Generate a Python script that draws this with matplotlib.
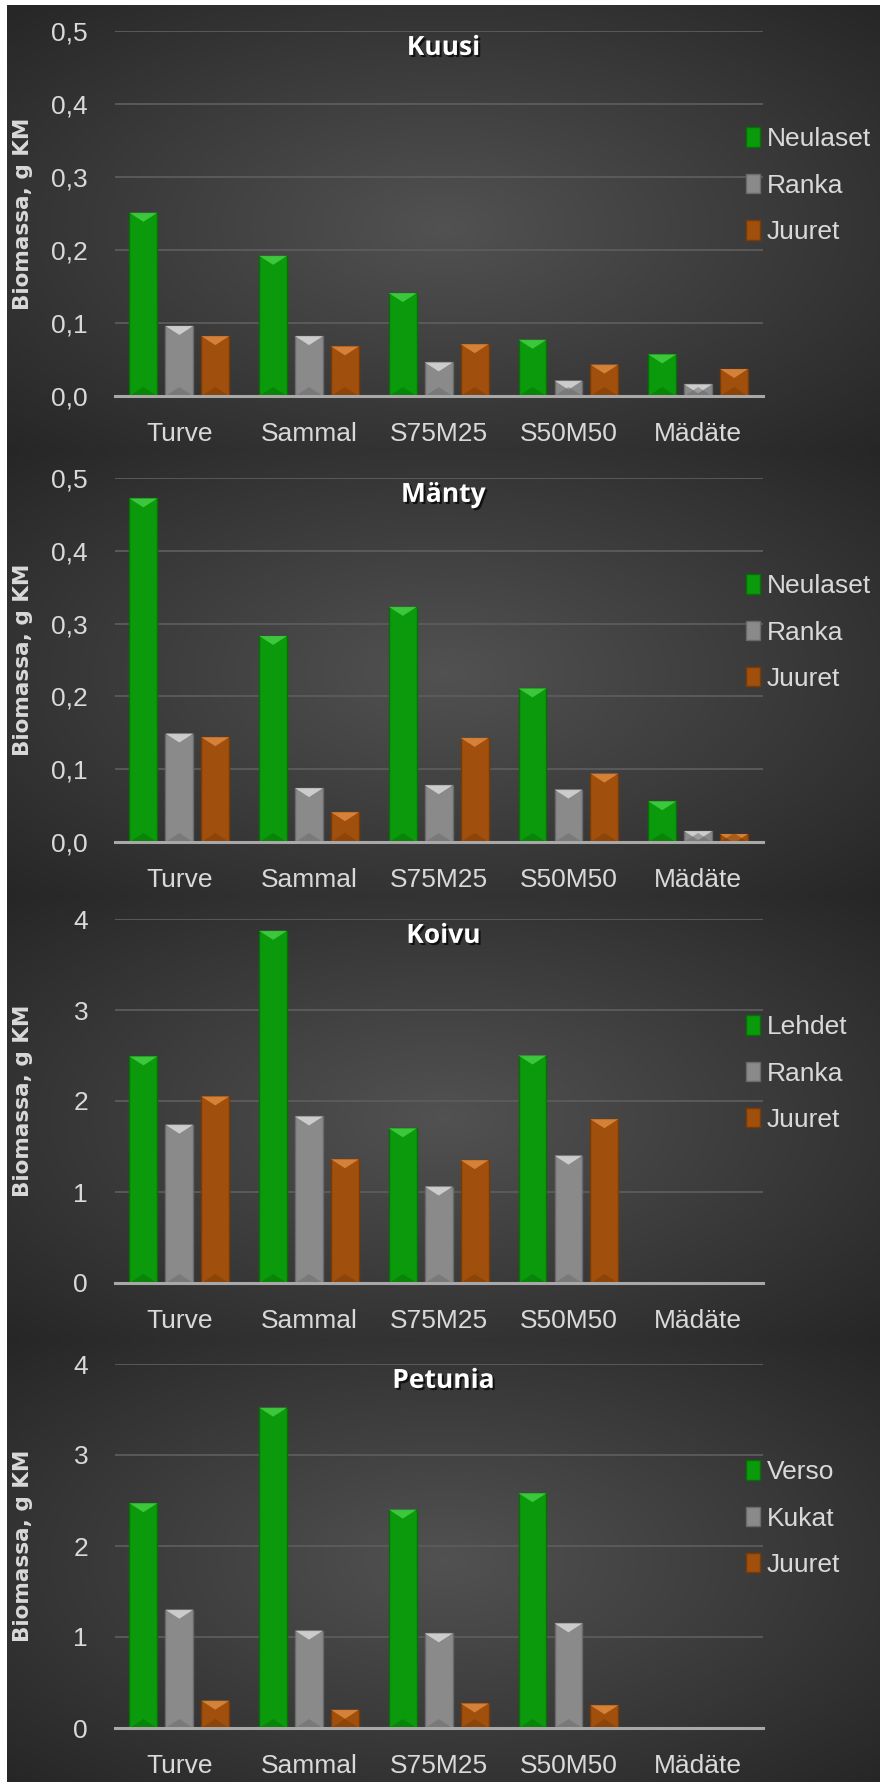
import matplotlib
matplotlib.use("Agg")
import matplotlib.pyplot as plt
import matplotlib.patheffects as pe
from matplotlib.patches import Polygon
import numpy as np

categories = ["Turve", "Sammal", "S75M25", "S50M50", "Mädäte"]

kuusi_titles = ["Neulaset", "Ranka", "Juuret"]
kuusi_green = [0.251, 0.192, 0.141, 0.077, 0.057]
kuusi_gray = [0.096, 0.082, 0.046, 0.021, 0.016]
kuusi_orange = [0.082, 0.068, 0.071, 0.043, 0.037]

manty_titles = ["Neulaset", "Ranka", "Juuret"]
manty_green = [0.472, 0.283, 0.323, 0.211, 0.056]
manty_gray = [0.149, 0.074, 0.078, 0.072, 0.015]
manty_orange = [0.144, 0.041, 0.143, 0.094, 0.011]

koivu_titles = ["Lehdet", "Ranka", "Juuret"]
koivu_green = [2.49, 3.87, 1.70, 2.50, 0.0]
koivu_gray = [1.74, 1.83, 1.06, 1.40, 0.0]
koivu_orange = [2.05, 1.36, 1.35, 1.80, 0.0]

petunia_titles = ["Verso", "Kukat", "Juuret"]
petunia_green = [2.47, 3.52, 2.40, 2.58, 0.0]
petunia_gray = [1.30, 1.07, 1.04, 1.15, 0.0]
petunia_orange = [0.30, 0.20, 0.27, 0.25, 0.0]

panels = [
    ("Kuusi", kuusi_titles, [kuusi_green, kuusi_gray, kuusi_orange], 0.5, [0, 0.1, 0.2, 0.3, 0.4, 0.5]),
    ("Mänty", manty_titles, [manty_green, manty_gray, manty_orange], 0.5, [0, 0.1, 0.2, 0.3, 0.4, 0.5]),
    ("Koivu", koivu_titles, [koivu_green, koivu_gray, koivu_orange], 4, [0, 1, 2, 3, 4]),
    ("Petunia", petunia_titles, [petunia_green, petunia_gray, petunia_orange], 4, [0, 1, 2, 3, 4]),
]

face_colors = ["#0b9a0b", "#8a8a8a", "#a04f0c"]
edge_colors = ["#067006", "#6a6a6a", "#7a3a06"]
bevel_colors = ["#45d045", "#d8d8d8", "#e08a40"]

W, H = 880, 1782
# panel bands (pixels from top) and plot area (top gridline, zero line)
bands = [(5, 450), (450, 896), (896, 1340), (1340, 1782)]
plot_rows = [(31, 396), (478, 842), (919, 1283), (1364, 1728)]
plot_x = (114.5, 763)

narrow = ["Liberation Sans", "DejaVu Sans"]
text_col = "#d9d9d9"

fig = plt.figure(figsize=(W / 100, H / 100), dpi=100)
fig.patch.set_facecolor("white")

# radial gradient for each panel background
gx, gy = np.meshgrid(np.linspace(0, 1, 300), np.linspace(0, 1, 200))
r = np.sqrt(((gx - 0.5) / 0.75) ** 2 + ((gy - 0.5) / 0.75) ** 2)
r = np.clip(r, 0, 1)
shade = 0.32 - 0.18 * r
bg_img = np.dstack([shade, shade, shade])

for (title, labels, series, ymax, yticks), (b0, b1), (p0, p1) in zip(panels, bands, plot_rows):
    bg = fig.add_axes([7 / W, 1 - b1 / H, 1 - 7 / W, (b1 - b0) / H], zorder=0)
    bg.imshow(bg_img, aspect="auto", extent=[0, 1, 0, 1], interpolation="bilinear")
    bg.set_axis_off()

    ax = fig.add_axes([plot_x[0] / W, 1 - p1 / H, (plot_x[1] - plot_x[0]) / W, (p1 - p0) / H], zorder=1)
    ax.patch.set_alpha(0)

    x = np.arange(len(categories))
    bw = 0.215
    step = 0.277
    bev = 9 / (p1 - p0) * ymax
    containers = []
    for i, vals in enumerate(series):
        bars = ax.bar(x + (i - 1) * step, vals, bw, color=face_colors[i],
                      edgecolor=edge_colors[i], linewidth=1, label=labels[i], zorder=3)
        containers.append(bars)
        for b in bars:
            h = b.get_height()
            if h <= 0:
                continue
            x0, w = b.get_x(), b.get_width()
            ax.add_patch(Polygon([(x0, h), (x0 + w, h), (x0 + w / 2, h - bev)],
                                 closed=True, facecolor=bevel_colors[i], edgecolor="none",
                                 alpha=0.85, zorder=4))
            ax.add_patch(Polygon([(x0, 0), (x0 + w, 0), (x0 + w / 2, bev)],
                                 closed=True, facecolor=edge_colors[i], edgecolor="none",
                                 alpha=0.5, zorder=4))

    ax.set_xlim(-0.5, len(categories) - 0.5)
    ax.set_ylim(0, ymax)
    ax.set_yticks(yticks)
    if ymax < 1:
        ax.set_yticklabels([f"{t:.1f}".replace(".", ",") for t in yticks])
    else:
        ax.set_yticklabels([str(t) for t in yticks])
    ax.set_xticks(x)
    ax.set_xticklabels(categories)
    for lab in ax.get_xticklabels() + ax.get_yticklabels():
        lab.set_family(narrow)
        lab.set_fontsize(19)
        lab.set_color(text_col)
    ax.tick_params(axis="y", length=0, pad=19)
    ax.tick_params(axis="x", length=0, pad=19)

    ax.grid(axis="y", color="#5c5c5c", linewidth=1.3, zorder=1)
    ax.set_axisbelow(True)
    for s in ["top", "right", "left"]:
        ax.spines[s].set_visible(False)
    ax.spines["bottom"].set_color("#a8a8a8")
    ax.spines["bottom"].set_linewidth(2.2)
    ax.spines["bottom"].set_zorder(5)

    ax.set_ylabel("Biomassa, g KM", fontsize=15.5, fontweight="bold", color=text_col,
                  family="DejaVu Sans")
    ax.yaxis.set_label_coords(-(plot_x[0] - 33) / (plot_x[1] - plot_x[0]), 0.5)

    ax.text(0.507, 0.955, title, transform=ax.transAxes, ha="center", va="center",
            fontsize=19, fontweight="bold", color="white", family="Open Sans",
            path_effects=[pe.withSimplePatchShadow(offset=(1.5, -1.5), shadow_rgbFace="black", alpha=0.7)])

    leg = ax.legend(handles=containers, loc="upper left", bbox_to_anchor=(0.957, 0.765),
                    frameon=False, handlelength=0.55, handleheight=0.75, handletextpad=0.25,
                    labelspacing=0.85, borderaxespad=0, prop={"family": narrow, "size": 19})
    for t in leg.get_texts():
        t.set_color(text_col)

fig.savefig("out.png", dpi=100, facecolor=fig.get_facecolor())
